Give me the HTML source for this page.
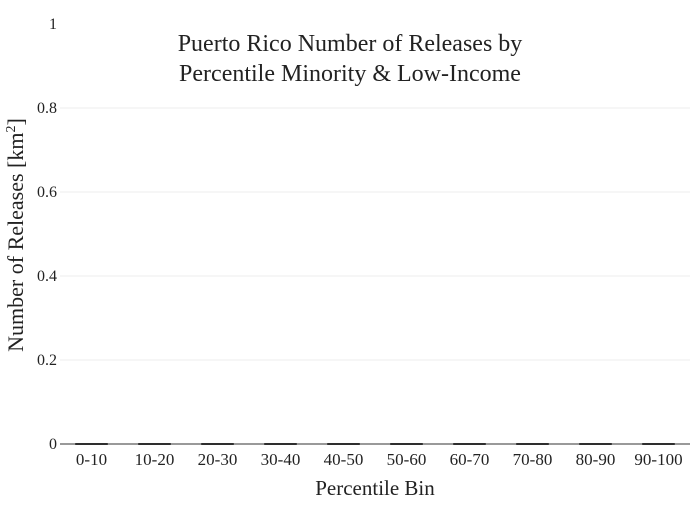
<!DOCTYPE html>
<html><head><meta charset="utf-8"><style>
body{margin:0;background:#fff}
svg text{font-family:"Liberation Serif",serif;fill:#222}
</style></head><body>
<svg id="c" width="700" height="500" xmlns="http://www.w3.org/2000/svg">
<rect width="700" height="500" fill="#fff"/>
<text x="350" y="51" font-size="24" text-anchor="middle"><tspan x="350">Puerto Rico Number of Releases by</tspan><tspan x="350" dy="30">Percentile Minority &amp; Low-Income</tspan></text>
<g id="grid"></g><g id="bars"></g><g id="xt"></g><g id="yt"></g>
<text x="375" y="495" font-size="21" text-anchor="middle">Percentile Bin</text>
<text transform="translate(23,235) rotate(-90)" font-size="22" text-anchor="middle">Number of Releases  [km<tspan font-size="14" dy="-8">2</tspan><tspan dy="8">]</tspan></text>
</svg>
<script>
const categories=["0-10","10-20","20-30","30-40","40-50","50-60","60-70","70-80","80-90","90-100"];
const values=[0,0,0,0,0,0,0,0,0,0];
const yTicks=[0,0.2,0.4,0.6,0.8,1];
const yTickLabels=["0","0.2","0.4","0.6","0.8","1"];
const L=60,R=690,T=24,B=444,NS="http://www.w3.org/2000/svg";
const bw=(R-L)/categories.length;
const x=i=>L+bw*(i+0.5), y=v=>B-(B-T)*v;
function mk(t,a,p){const e=document.createElementNS(NS,t);for(const k in a)e.setAttribute(k,a[k]);p.appendChild(e);return e;}
const g=document.getElementById('grid'),yt=document.getElementById('yt'),xt=document.getElementById('xt'),bars=document.getElementById('bars');
yTicks.forEach((v,i)=>{
 if(v>0&&v<1){const l=mk('line',{x1:L,x2:R,y1:y(v),y2:y(v),stroke:'#eee'},g);
 
 }
 const t=mk('text',{x:L-3,y:y(v)+5,'font-size':16,'text-anchor':'end'},yt);t.textContent=yTickLabels[i];
 
 
});
const ax=mk('line',{x1:L,x2:R,y1:B,y2:B,stroke:'#999','stroke-width':2},g);


categories.forEach((c,i)=>{
 const h=Math.max(y(0)-y(values[i]),0);
 const r=mk('rect',{x:x(i)-16,y:y(values[i])-0.5,width:32,height:h+1,fill:'#1f1f1f',stroke:'#000','stroke-width':0.5},bars);
 
 
 const t=mk('text',{x:x(i),y:B+21,'font-size':17,'text-anchor':'middle'},xt);t.textContent=c;
 
 
});
</script>
</body></html>
